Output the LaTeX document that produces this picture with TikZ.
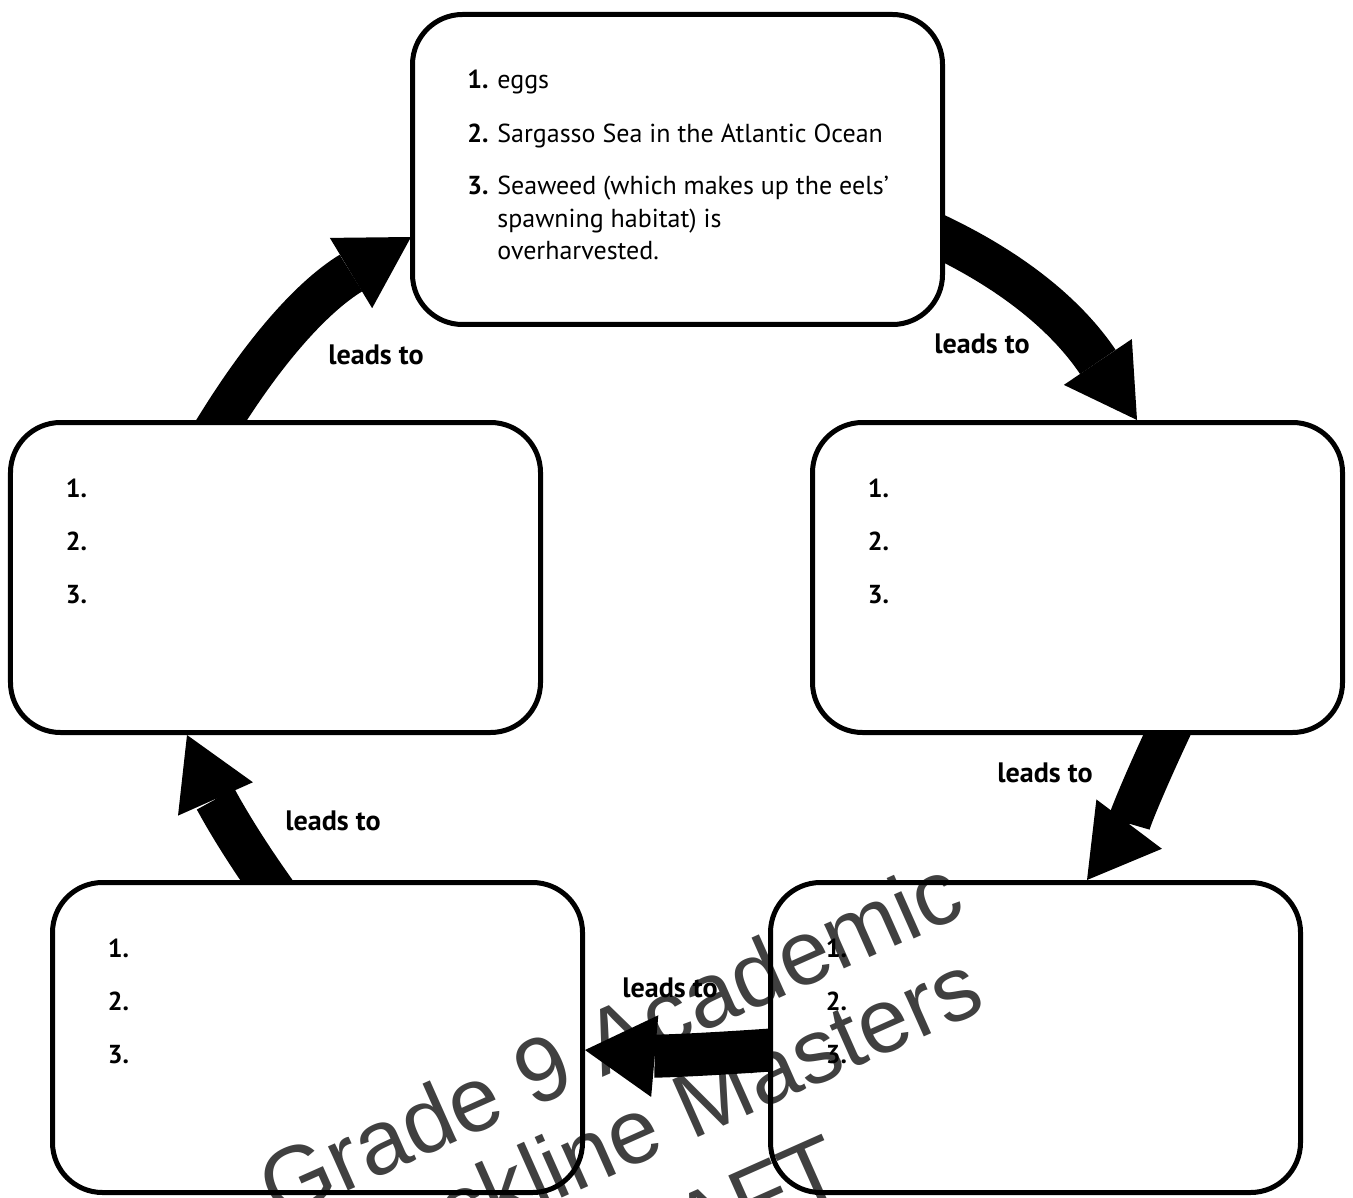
\documentclass[tikz,border=0pt]{standalone}
\usepackage{fontspec}
\setmainfont{PT Sans}
\newfontfamily\wmfont{Liberation Sans}
\usetikzlibrary{positioning, arrows.meta, calc}
\newcommand{\boxfont}{\fontsize{14.8}{18}\selectfont}

\begin{document}
\begin{tikzpicture}[
  every node/.style={font=\boxfont, inner sep=0pt},
  stage/.style={draw, line width=0.1cm, rounded corners=1cm, minimum width=10.6cm, minimum height=6.2cm, outer sep=0pt},
  num/.style={anchor=base west, font=\boxfont\bfseries},
  item/.style={anchor=base west},
  leads/.style={font=\fontsize{16}{18}\selectfont\bfseries},
  flow/.style={line width=0.86cm, -{Triangle[length=1.4cm, width=1.64cm, line width=0pt]}},
  wmark/.style={anchor=base, rotate=24, text=black!75, font=\wmfont\fontsize{52}{60}\selectfont}
]
\useasboundingbox (0,0) rectangle (27.06,-23.94);
\clip (0,0) rectangle (27.06,-23.94);

% Watermark (under everything else)
\node[wmark] (wm1) at (12.46,-21.36) {Grade 9 Academic};
\node[wmark] (wm2) at (13.22,-23.08) {Blackline Masters};
\node[wmark] (wm3) at (14.20,-25.06) {DRAFT};

% The five stages of the cycle
\node[stage] (egg) at (13.55,-3.39) {};
\node[stage] (stageR) at (21.55,-11.55) {};
\node[stage] (stageBR) at (20.71,-20.75) {};
\node[stage] (stageBL) at (6.35,-20.75) {};
\node[stage] (stageL) at (5.51,-11.55) {};

% Arrow ends on the box borders
\coordinate (a1s) at ($(stageL.north west)+(4.19,0)$);
\coordinate (a1e) at ($(egg.north west)+(-0.03,-4.45)$);
\coordinate (a2s) at ($(egg.north east)+(0,-4.47)$);
\coordinate (a2e) at ($(stageR.north west)+(6.49,0.05)$);
\coordinate (a3s) at ($(stageR.south west)+(7.11,0)$);
\coordinate (a3e) at ($(stageBR.north west)+(6.33,0.05)$);
\coordinate (a4s) at ($(stageBR.west)+(0,-0.25)$);
\coordinate (a4e) at ($(stageBL.east)+(0.05,-0.25)$);
\coordinate (a5s) at ($(stageBL.north west)+(4.31,0)$);
\coordinate (a5e) at ($(stageL.south west)+(3.53,-0.05)$);

% Left stage -> eggs
\begin{scope}
\clip (0,-8.40) rectangle (8.25,0);
\draw[flow] ($(a1s)+(238:0.5)$) -- (a1s) to[out=58,in=211] (a1e);
\end{scope}

% Eggs -> right stage
\begin{scope}
\clip (18.85,-8.45) rectangle (27.06,0);
\draw[flow] ($(a2s)+(154:0.5)$) -- (a2s) to[out=-26,in=124] (a2e);
\end{scope}

% Right stage -> bottom right, bottom left -> left stage
\begin{scope}
\clip (0,-17.65) rectangle (27.06,-14.65);
\draw[flow] ($(a3s)+(65:0.5)$) -- (a3s) to[out=245,in=53] (a3e);
\draw[flow] ($(a5s)+(305:0.5)$) -- (a5s) to[out=125,in=294] (a5e);
\end{scope}

% Bottom right -> bottom left
\begin{scope}
\clip (11.65,-23.94) rectangle (15.41,-17);
\draw[flow] ($(a4s)+(4:0.5)$) -- (a4s) to[out=184,in=-5] (a4e);
\end{scope}

% Filled-in stage: eggs
\node[num] (e1) at ($(egg.north west)+(1.09,-1.49)$) {1.};
\node[item] (e1t) at ($(egg.north west)+(1.69,-1.49)$) {eggs};
\node[num] (e2) at ($(egg.north west)+(1.09,-2.57)$) {2.};
\node[item] (e2t) at ($(egg.north west)+(1.69,-2.57)$) {Sargasso Sea in the Atlantic Ocean};
\node[num] (e3) at ($(egg.north west)+(1.09,-3.61)$) {3.};
\node[item] (e3t) at ($(egg.north west)+(1.69,-3.61)$) {Seaweed (which makes up the eels’};
\node[item] (e3u) at ($(egg.north west)+(1.69,-4.26)$) {spawning habitat) is};
\node[item] (e3v) at ($(egg.north west)+(1.69,-4.91)$) {overharvested.};

% Empty stages
\foreach \b in {stageR,stageBR,stageBL,stageL}{
  \node[num] (\b-1) at ($(\b.north west)+(1.10,-1.49)$) {1.};
  \node[num] (\b-2) at ($(\b.north west)+(1.10,-2.56)$) {2.};
  \node[num] (\b-3) at ($(\b.north west)+(1.10,-3.61)$) {3.};
}

% Arrow labels
\node[leads] (l1) at (7.52,-7.10) {leads to};
\node[leads] (l2) at (19.64,-6.88) {leads to};
\node[leads] (l3) at (20.90,-15.46) {leads to};
\node[leads] (l4) at (13.40,-19.76) {leads to};
\node[leads] (l5) at (6.66,-16.42) {leads to};
\end{tikzpicture}
\end{document}
